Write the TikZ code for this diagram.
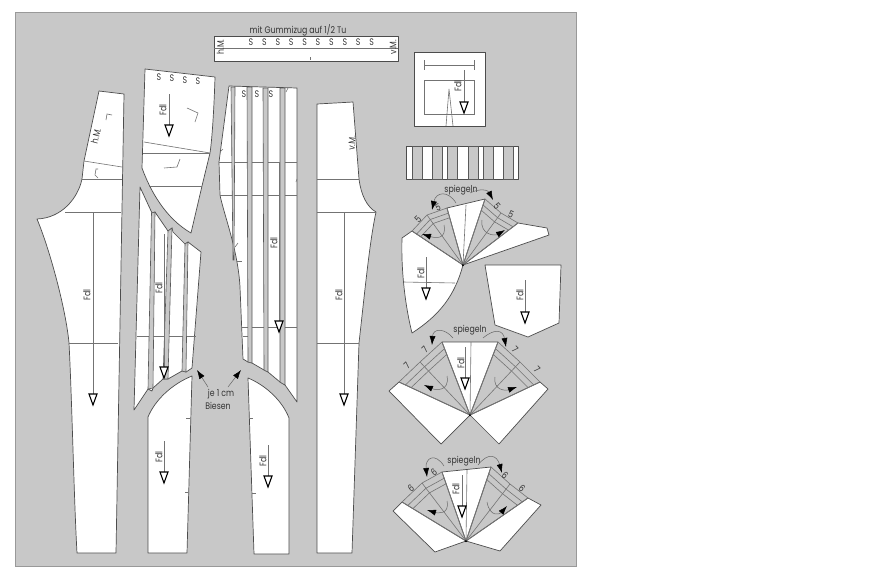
\documentclass[tikz,border=0pt]{standalone}
\usepackage{fontspec}
\setmainfont[FakeStretch=0.82]{Poppins}
\usetikzlibrary{arrows.meta}
\usetikzlibrary{calc}

\definecolor{panel}{HTML}{C8C8C8}
\tikzset{
  piece/.style={draw=black!70,fill=white,line width=0.7pt,line join=round},
  fold/.style={draw=black!55,line width=0.6pt},
  strip/.style={draw=black!65,fill=panel,line width=0.6pt},
  turn/.style={draw=black!60,line width=0.5pt,-{Latex[color=black,length=9pt,width=6pt]}},
  label/.style={font=\fontsize{9.5}{11}\selectfont,text=black!80,inner sep=0pt},
  flip/.style={label,rotate=90},
}
% grain line: x, top, tip, then the place of its text
\newcommand{\fdl}[6]{
  \draw[fold] (#2,#3) -- (#2,#4-8);
  \draw[line width=1.1pt,fill=white,line join=miter] (#2-4,#4-11) -- (#2+4,#4-11) -- (#2,#4) -- cycle;
  \node[flip] (#1) at (#5,#6) {Fdl};
}
% rays and chords of a fold fan
\newcommand{\folds}[4]{
  \draw[fold,line width=0.8pt] (#1) -- (#2) (#1) -- (#4);
  \draw[fold] (#1) -- (#3);
  \draw[fold] (#2) -- (#3) -- (#4);
  \foreach \f in {.91,.83}
    \draw[fold] ($(#1)!\f!(#2)$) -- ($(#1)!\f!(#3)$) -- ($(#1)!\f!(#4)$);
  \fill (#1) circle (1);
}

\begin{document}
\begin{tikzpicture}[x=1pt,y=-1pt]
  \useasboundingbox (0,0) rectangle (886,579);
  \fill[white] (0,0) rectangle (886,579);
  \draw[fill=panel,draw=black!40,line width=0.6pt] (15,12) rectangle (576,566);

  %%%%% band
  \node[label] (band) at (298,30) {mit Gummizug auf 1/2 Tu};
  \draw[piece] (214,36) rectangle (398,61);
  \draw[fold,line width=1pt] (214,48) -- (398,48);
  \draw[fold] (310,57) -- (310,60);
  \foreach \n in {0,...,9}
    \node[label] (bs\n) at (251+13.4*\n,42.5) {S};
  \node[flip] (bandh) at (220.5,47) {h.M.};
  \node[flip] (bandv) at (393,47) {v.M.};

  %%%%% back leg
  \draw[piece] (99,91) -- (84,161) -- (82,179) .. controls (78,198) and (62,218) .. (37,219)
    .. controls (50,250) and (66,310) .. (69,343) .. controls (72,400) and (74,500) .. (77,553)
    -- (116,553) -- (124,94) -- cycle;
  \draw[fold] (84,161) -- (122,167);
  \draw[fold] (82,179) -- (122,179);
  \draw[fold] (65,212) -- (121,212);
  \draw[fold] (69,343) -- (118,343);
  \draw[fold] (106,120) -- (107,114) -- (112,115);
  \draw[fold] (98,178) -- (95,175) -- (96,169) -- (98,169);
  \fdl{fdla}{93}{212}{405}{87}{295}
  \node[label,rotate=75] (hm) at (96,136) {h.M.};

  %%%%% yoke
  \draw[piece] (145,69) -- (215,77) .. controls (214,110) and (212,140) .. (210,153) -- (202,186) -- (191,233)
    .. controls (165,218) and (150,190) .. (142,168) -- cycle;
  \draw[fold] (144,142) -- (210,153);
  \draw[fold] (143,153) -- (210,153);
  \draw[fold] (149,186) -- (202,186);
  \draw[fold] (187,108) -- (198,113) -- (195,122);
  \draw[fold] (164,168) -- (177,167) -- (180,159);
  \foreach \n/\x/\y in {1/159/77,2/172/78,3/185/80,4/198/81}
    \node[label] (ys\n) at (\x,\y) {S};
  \fdl{fdlb}{169}{94}{136}{163}{110}

  %%%%% back leg, pleated part
  \draw[piece] (140,187) -- (152,213) -- (155,212) -- (157,215) -- (168,231) -- (172,228) -- (173,232)
    -- (185,244) -- (188,242) -- (201,252) -- (192,368) -- (186,372) -- (182,371) -- (168,379) -- (163,379)
    -- (153,388) -- (152,391) -- (148,389) -- (134,410) -- cycle;
  \draw[fold] (137,336) -- (196,336);
  \draw[strip] (151.5,213) -- (155,212) -- (153,388) -- (148,389) -- cycle;
  \draw[strip] (168,231) -- (172,228) -- (168,379) -- (163,379) -- cycle;
  \draw[strip] (185,244) -- (188,242) -- (186,372) -- (182,371) -- cycle;
  \fdl{fdlc}{164}{234}{378}{159}{288}

  %%%%% back leg, lower part
  \draw[piece] (192,376) .. controls (172,384) and (155,400) .. (148,417) -- (148,553) -- (187,553) -- cycle;
  \draw[fold] (186,418) -- (190,418);
  \draw[fold] (185,492) -- (188,492);
  \fdl{fdld}{164}{441}{483}{159}{457}

  %%%%% front leg, pleated part
  \draw[piece] (229,86) -- (297,88) -- (297,402) -- (285,385) -- (280,382) -- (268,372) -- (264,370)
    -- (252,363) -- (248,362) -- (243,359) -- (240,287) .. controls (238,250) and (224,215) .. (220,195)
    -- (219,162) -- cycle;
  \draw[fold] (219,162) -- (297,162);
  \draw[fold] (220,195) -- (297,195);
  \draw[fold] (242,327) -- (297,327);
  \draw[fold] (243,336) -- (251,336);
  \draw[fold] (288,88) -- (286,92);
  \draw[fold] (220,152) -- (223,149);
  \draw[fold] (296,182) -- (297,179);
  \draw[fold] (235,247) -- (238,243);
  \draw[fold] (237,261) -- (242,261);
  \draw[strip] (231,87) -- (235,87) -- (234,260) -- (233,260) -- cycle;
  \draw[strip] (247,87) -- (252,87) -- (252,363) -- (248,362) -- cycle;
  \draw[strip] (263,88) -- (268,88) -- (268,372) -- (264,370) -- cycle;
  \draw[strip] (280,88) -- (285,88) -- (285,385) -- (280,382) -- cycle;
  \foreach \n/\x in {1/244,2/257,3/271}
    \node[label] (fs\n) at (\x,94) {S};
  \fdl{fdle}{279}{162}{332}{274}{243}

  %%%%% front leg, lower part
  \draw[piece] (248,378) .. controls (265,385) and (282,400) .. (289,418) -- (289,554) -- (254,554) -- cycle;
  \draw[fold] (250,418) -- (253,418);
  \draw[fold] (252,493) -- (256,493);
  \fdl{fdlf}{268}{445}{487}{263}{461}

  %%%%% front leg
  \draw[piece] (317,104) -- (353,102) -- (359,179) .. controls (361,195) and (367,207) .. (376,212)
    .. controls (370,240) and (366,280) .. (359,343) -- (352,553) -- (317,553) -- cycle;
  \draw[fold] (317,179) -- (359,179);
  \draw[fold] (317,212) -- (376,212);
  \draw[fold] (317,343) -- (359,343);
  \fdl{fdlg}{344}{212}{405}{339}{295}
  \node[label,rotate=85] (vm) at (352,143) {v.M.};

  %%%%% pleat note
  \node[label] (je) at (221,394) {je 1 cm};
  \node[label] (bi) at (218,405.5) {Biesen};
  \coordinate (ja) at (197,370);
  \coordinate (jb) at (241,370);
  \draw[turn] (208,387) -- (ja);
  \draw[turn] (228,387) -- (jb);

  %%%%% square
  \draw[piece] (414,52) rectangle (485,126);
  \draw[fold] (424,60) -- (424,70) (424,65) -- (474,65) (474,60) -- (474,70);
  \draw[fold] (424,80) rectangle (474,114);
  \draw[fold] (446,126) -- (449,89) -- (453,126);
  \fdl{fdlh}{464}{70}{113}{458}{86}

  %%%%% striped band
  \draw[piece] (406,146) rectangle (518,179);
  \foreach \a/\b in {412/422,432/442,447/457,468/478,483/493,503/513}
    \draw[strip] (\a,146) rectangle (\b,179);

  %%%%% fan one
  \coordinate (A) at (463,265);
  \coordinate (A1) at (412,231);
  \coordinate (A2) at (427,215);
  \coordinate (A3) at (447,208);
  \coordinate (A4) at (485,199);
  \coordinate (A5) at (501,213);
  \coordinate (A6) at (518,223);
  \draw[piece] (A) -- (A1) -- (402,238) .. controls (401,270) and (405,305) .. (412,333)
    .. controls (440,315) and (455,295) .. cycle;
  \draw[fold] (403,282) -- (455,283);
  \draw[piece] (A) -- (A3) -- (A4) -- cycle;
  \draw[fold] (A) -- (466,205);
  \draw[piece] (A) -- (A6) -- (547,228) -- (549,235) -- cycle;
  \folds{A}{A1}{A2}{A3}
  \folds{A}{A4}{A5}{A6}
  \node[label] (sa) at (461,190) {spiegeln};
  \draw[turn] (456,203) .. controls (448,190) and (436,192) .. (432,210);
  \draw[turn] (470,193) .. controls (480,188) and (488,190) .. (493,200);
  \draw[turn] (444,225) .. controls (447,240) and (435,238) .. (422,234);
  \draw[turn] (482,220) .. controls (480,235) and (495,236) .. (505,230);
  \foreach \n/\x/\y/\r in {1/418/219/45,2/438/207/20,3/497/206/-50,4/511/214/-25}
    \node[label,rotate=\r] (fa\n) at (\x,\y) {5};
  \fdl{fdli}{426}{257}{299}{421}{273}

  %%%%% pocket
  \draw[piece] (485,265) -- (561,265) -- (559,323) -- (528,337) -- (495,325) -- cycle;
  \fdl{fdlj}{525}{280}{323}{520}{295}

  %%%%% fan two
  \coordinate (B) at (470,415);
  \coordinate (B1) at (399,382);
  \coordinate (B2) at (420,362);
  \coordinate (B3) at (442,342);
  \coordinate (B4) at (498,342);
  \coordinate (B5) at (520,362);
  \coordinate (B6) at (540,382);
  \draw[piece] (B) -- (B1) -- (389,391) -- (441,444) -- cycle;
  \draw[piece] (B) -- (B6) -- (548,389) -- (499,444) -- cycle;
  \draw[piece] (B) -- (B3) -- (B4) -- cycle;
  \draw[fold] (B) -- (471,342);
  \folds{B}{B1}{B2}{B3}
  \folds{B}{B6}{B5}{B4}
  \node[label] (sb) at (470,330) {spiegeln};
  \draw[turn] (453,338) .. controls (445,328) and (433,328) .. (432,345);
  \draw[turn] (483,338) .. controls (495,328) and (503,330) .. (506,347);
  \draw[turn] (447,376) .. controls (450,392) and (435,390) .. (424,385);
  \draw[turn] (495,377) .. controls (493,390) and (505,391) .. (517,387);
  \foreach \n/\x/\y/\r in {1/425/350/45,2/407/366/45,3/515/350/-45,4/537/370/-45}
    \node[label,rotate=\r] (fb\n) at (\x,\y) {7};
  \fdl{fdlk}{465}{347}{389}{461}{363}

  %%%%% fan three
  \coordinate (C) at (466,541);
  \coordinate (C1) at (402,502);
  \coordinate (C2) at (422,483);
  \coordinate (C3) at (442,472);
  \coordinate (C4) at (491,467);
  \coordinate (C5) at (510,484);
  \coordinate (C6) at (528,498);
  \draw[piece] (C) -- (C1) -- (393,511) -- (435,552) -- cycle;
  \draw[piece] (C) -- (C6) -- (541,505) -- (500,551) -- cycle;
  \draw[piece] (C) -- (C3) -- (C4) -- cycle;
  \draw[fold] (C) -- (467,470);
  \folds{C}{C1}{C2}{C3}
  \folds{C}{C6}{C5}{C4}
  \node[label] (sc) at (464,461) {spiegeln};
  \draw[turn] (444,466) .. controls (435,452) and (425,458) .. (427,477);
  \draw[turn] (478,465) .. controls (488,452) and (497,455) .. (502,473);
  \draw[turn] (447,501) .. controls (450,515) and (437,513) .. (427,510);
  \draw[turn] (487,502) .. controls (490,518) and (500,514) .. (507,506);
  \foreach \n/\x/\y/\r in {1/434/472/35,2/411/488/35,3/505/475/-40,4/522/488/-40}
    \node[label,rotate=\r] (fc\n) at (\x,\y) {6};
  \fdl{fdll}{462}{475}{517}{456}{489}
\end{tikzpicture}
\end{document}
